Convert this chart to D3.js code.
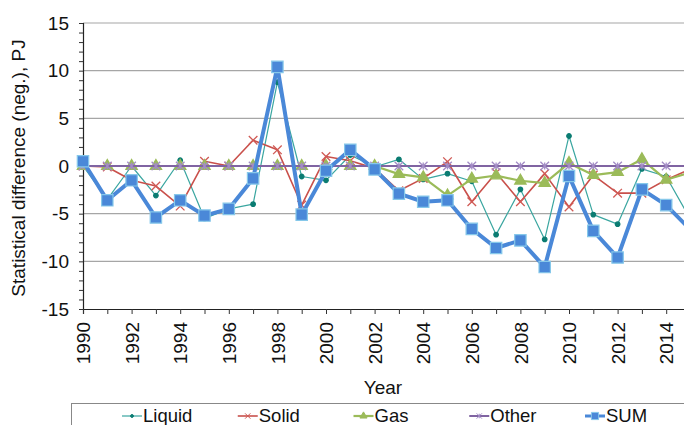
<!DOCTYPE html>
<html><head><meta charset="utf-8">
<script src="https://cdn.jsdelivr.net/npm/d3@7"></script>
<style>body{margin:0;background:#fff}svg{display:block;font-family:"Liberation Sans",Arial,sans-serif}</style>
</head><body><svg id="c" width="684" height="425"></svg>
<script>
const years = d3.range(1990, 2016);
const liquid = [0,-3.5,0,-3.1,0.6,-5.5,-4.5,-4.0,8.8,-1.1,-1.5,1.15,-0.1,0.7,-1.4,-0.8,-1.6,-7.2,-2.45,-7.7,3.15,-5.1,-6.1,-0.3,-1.1,-5.6];
const solid  = [0,-0.1,-1.5,-2.1,-4.2,0.5,0,2.7,1.7,-4.1,1.0,0.55,-0.25,-2.6,-1.3,0.45,-3.75,-0.7,-3.75,-0.8,-4.3,-0.95,-2.85,-2.85,-1.45,-0.3];
const gas    = [0,0,0,0,0,0,0,0,0,0,0,0,0,-0.85,-1.2,-3.1,-1.35,-1.0,-1.55,-1.8,0.3,-0.95,-0.65,0.7,-1.45,-0.67];
const other  = years.map(()=>0);
const sum    = [0.5,-3.6,-1.5,-5.4,-3.6,-5.2,-4.5,-1.3,10.4,-5.1,-0.5,1.7,-0.35,-2.9,-3.75,-3.6,-6.6,-8.6,-7.8,-10.6,-1.05,-6.8,-9.6,-2.45,-4.1,-6.7];
const seriesNames = ["Liquid","Solid","Gas","Other","SUM"];
const yTicks = [-15,-10,-5,0,5,10,15];
const xTicks = d3.range(1990, 2015, 2);

const series = [
  {name:"Liquid", values:liquid, color:"#3aa6a0", width:1.2, marker:"circle", mfill:"#0b7c72", mstroke:"#0b7c72", msize:16},
  {name:"Solid", values:solid, color:"#c9504b", width:1.6, marker:"x", mfill:"none", mstroke:"#d05a55", msize:50},
  {name:"Gas", values:gas, color:"#9bbb59", width:2.2, marker:"triangle", mfill:"#9bbb59", mstroke:"#9bbb59", msize:55},
  {name:"Other", values:other, color:"#8064a2", width:2, marker:"star", mfill:"none", mstroke:"#a38cc6", msize:50},
  {name:"SUM", values:sum, color:"#4a88d8", width:4, marker:"square", mfill:"#4a88d8", mstroke:"#86c8ea", msize:130}
];

const FONT = '"Liberation Sans",Arial,sans-serif';
const svg = d3.select("#c");
const x = d3.scaleLinear().domain([1990, 2015]).range([83, 690.5]);
const y = d3.scaleLinear().domain([-15, 15]).range([309, 23]);

// gridlines
svg.append("g").selectAll("line").data(yTicks.filter(v=>v!==-15)).join("line")
  .attr("x1", 83).attr("x2", 684).attr("y1", d=>y(d)).attr("y2", d=>y(d))
  .attr("stroke", "#a6a6a6").attr("stroke-width", 1.2);

// y axis with minor ticks
const yAxis = d3.axisLeft(y).tickValues(d3.range(-15,16,1)).tickSize(4)
  .tickFormat(d => yTicks.includes(d) ? d : "");
const gy = svg.append("g").attr("transform","translate(83,0)").call(yAxis);
gy.select(".domain").attr("stroke","#222").attr("stroke-width",1.2);
gy.selectAll(".tick line").attr("stroke","#333");
gy.selectAll("text").attr("font-size",19).attr("fill","#111").attr("x",-14)
  .attr("font-family",FONT);

// x axis
const xAxis = d3.axisBottom(x).tickValues(d3.range(1990,2016,1)).tickSize(5)
  .tickFormat(d => xTicks.includes(d) ? d : "");
const gx = svg.append("g").attr("transform","translate(0,309)").call(xAxis);
gx.select(".domain").attr("stroke","#222").attr("stroke-width",1.2);
gx.selectAll(".tick line").attr("stroke","#333");
gx.selectAll("text").attr("font-size",19).attr("fill","#111")
  .attr("font-family",FONT)
  .attr("transform","rotate(-90)").attr("text-anchor","end")
  .attr("x",-13).attr("y",0).attr("dy","0.35em");

// titles
svg.append("text").attr("transform","translate(25,168) rotate(-90)")
  .attr("text-anchor","middle").attr("font-size",19).attr("fill","#111")
  .text("Statistical difference (neg.), PJ");
svg.append("text").attr("x",383).attr("y",394).attr("text-anchor","middle")
  .attr("font-size",19).attr("fill","#111").text("Year");

function symbolFor(s){
  if (s.marker==="circle") return d3.symbol(d3.symbolCircle, s.msize)();
  if (s.marker==="triangle") return d3.symbol(d3.symbolTriangle, s.msize)();
  if (s.marker==="square") return d3.symbol(d3.symbolSquare, s.msize)();
  const t = d3.symbolTimes || d3.symbolX;
  let p = d3.symbol(t, s.msize)();
  if (s.marker==="star") { const r = Math.sqrt(s.msize)/2; p += "M0," + (-r) + "L0," + r; }
  return p;
}

const line = d3.line().x((d,i)=>x(years[i])).y(d=>y(d));
series.forEach(s=>{
  const g = svg.append("g");
  g.append("path").datum(s.values).attr("d", line).attr("fill","none")
    .attr("stroke", s.color).attr("stroke-width", s.width).attr("stroke-linejoin","round");
  g.selectAll("path.m").data(s.values).join("path").attr("class","m")
    .attr("transform",(d,i)=>`translate(${x(years[i])},${y(d)})`)
    .attr("d", symbolFor(s)).attr("fill", s.mfill).attr("stroke", s.mstroke)
    .attr("stroke-width", s.marker==="square"?1.2:1.3);
});

// legend
svg.append("rect").attr("x",71.5).attr("y",403.5).attr("width",640).attr("height",40)
  .attr("fill","#fff").attr("stroke","#888").attr("stroke-width",1);
const legX = d3.scalePoint().domain(seriesNames).range([122, 585]);
series.forEach(s=>{
  const lx = legX(s.name);
  const g = svg.append("g").attr("transform",`translate(${lx},416)`);
  g.append("line").attr("x1",0).attr("x2",20).attr("stroke",s.color).attr("stroke-width", Math.min(s.width,3));
  const sm = Object.assign({}, s, {msize: s.msize*0.4});
  g.append("path").attr("transform","translate(10,0)").attr("d", symbolFor(sm))
    .attr("fill", s.mfill).attr("stroke", s.mstroke).attr("stroke-width",1);
  g.append("text").attr("x",21).attr("y",0).attr("dy","0.35em").attr("font-size",18.5)
    .attr("fill","#111").text(s.name);
});
</script></body></html>
